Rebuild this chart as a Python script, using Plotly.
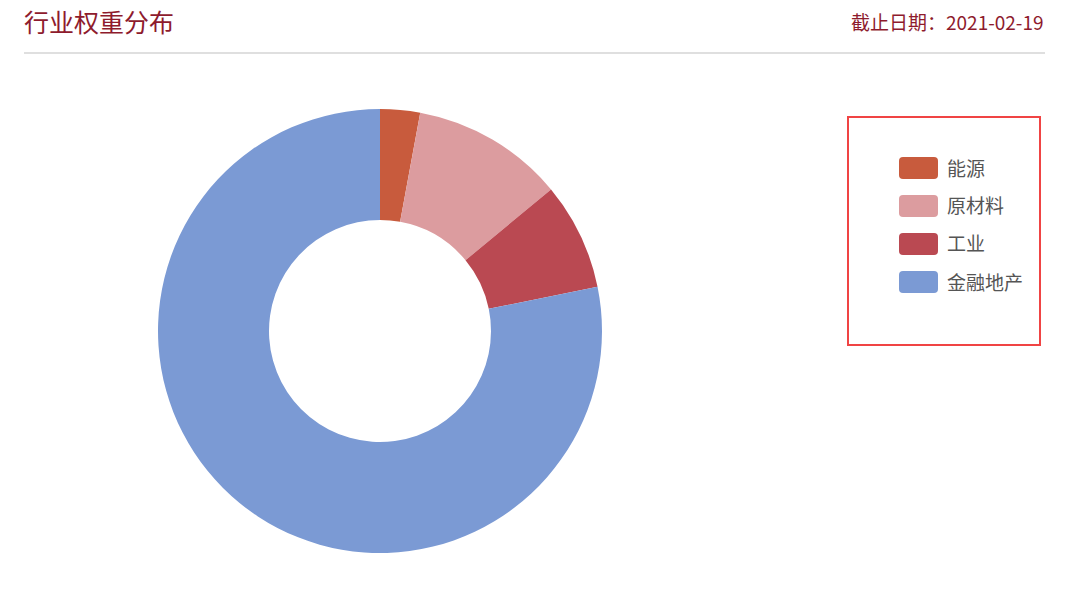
import plotly.graph_objects as go

# Data
labels = ['能源', '原材料', '工业', '金融地产']
weights = [2.9, 11.1, 7.8, 78.2]
colors = ['#C85B3D', '#DC9C9F', '#BA4952', '#7B9AD4']

title_text = '行业权重分布'
date_text = '截止日期：2021-02-19'

W, H = 1080, 599
FONT = 'Noto Sans CJK SC, Microsoft YaHei, sans-serif'
DARK_RED = '#8E1B2D'

def px(x): return x / W
def py(y): return 1 - y / H

fig = go.Figure()
fig.add_trace(go.Pie(
    labels=labels, values=weights, hole=0.5,
    sort=False, direction='clockwise', rotation=0,
    marker=dict(colors=colors, line=dict(width=0)),
    textinfo='none', showlegend=False,
    domain=dict(x=[px(158), px(602)], y=[py(553), py(109)]),
))

shapes = [
    # header rule
    dict(type='line', xref='paper', yref='paper', x0=px(24), x1=px(1045),
         y0=py(53), y1=py(53), line=dict(color='#D5D5D5', width=1.5)),
    # legend frame
    dict(type='rect', xref='paper', yref='paper', x0=px(848), x1=px(1040),
         y0=py(345), y1=py(117), line=dict(color='#F04444', width=2)),
]
annotations = [
    dict(text=title_text, xref='paper', yref='paper', x=px(23), y=py(21),
         xanchor='left', yanchor='middle', showarrow=False, borderpad=0,
         font=dict(family=FONT, size=25, color=DARK_RED)),
    dict(text=date_text, xref='paper', yref='paper', x=px(1046), y=py(22),
         xanchor='right', yanchor='middle', showarrow=False,
         font=dict(family=FONT, size=19, color=DARK_RED)),
]

# hand-built legend (rounded swatches like the original)
for i, (lab, col) in enumerate(zip(labels, colors)):
    cy = 168 + i * 38
    x0, x1, y0, y1 = 899, 938, cy - 11, cy + 11
    r = 4
    path = (f'M {x0+r},{y0} L {x1-r},{y0} Q {x1},{y0} {x1},{y0+r} '
            f'L {x1},{y1-r} Q {x1},{y1} {x1-r},{y1} L {x0+r},{y1} '
            f'Q {x0},{y1} {x0},{y1-r} L {x0},{y0+r} Q {x0},{y0} {x0+r},{y0} Z')
    out = []
    for t in path.split(' '):
        if ',' in t:
            a, b = t.split(',')
            out.append(f'{px(float(a)):.5f},{py(float(b)):.5f}')
        else:
            out.append(t)
    shapes.append(dict(type='path', xref='paper', yref='paper', path=' '.join(out),
                       fillcolor=col, line=dict(width=0)))
    annotations.append(dict(text=lab, xref='paper', yref='paper', x=px(945), y=py(cy - 1),
                            xanchor='left', yanchor='middle', showarrow=False,
                            font=dict(family=FONT, size=19, color='#555555')))

fig.update_layout(
    width=W, height=H,
    margin=dict(l=0, r=0, t=0, b=0),
    paper_bgcolor='white', plot_bgcolor='white',
    shapes=shapes, annotations=annotations,
)

# drop the default 8px body margin so the figure sits flush at the top-left
fig.write_html('out.html', config={'displayModeBar': False},
               post_script="document.body.style.margin='0';")
